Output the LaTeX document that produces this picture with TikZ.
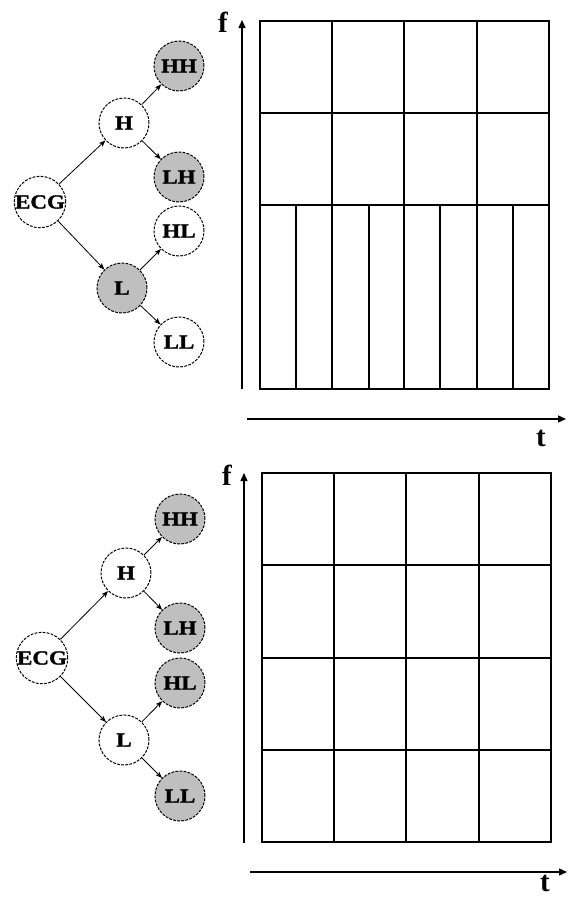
\documentclass[tikz,border=0pt]{standalone}
\usepackage{fontspec}
\setmainfont{Liberation Serif}
\newfontfamily\bandfont[FakeStretch=1.15,FakeBold=1.5]{Liberation Serif Bold}
\usetikzlibrary{arrows.meta}

\begin{document}
\begin{tikzpicture}[x=1pt,y=-1pt,
  band/.style={circle, draw, dash pattern=on 2.8pt off 1.3pt, line width=1pt,
    minimum size=50pt, inner sep=0pt, fill=white,
    font=\bandfont\fontsize{20}{20}\selectfont},
  sel/.style={band, fill=black!25},
  link/.style={-{Stealth[length=6.5pt,width=5pt,inset=1.5pt]}, line width=0.8pt},
  axis/.style={-{Triangle[length=8pt,width=7pt]}, line width=1.4pt},
  cell/.style={line width=1.5pt},
  axlabel/.style={font=\bfseries\fontsize{29}{29}\selectfont, inner sep=0pt}
]
\useasboundingbox (0,0) rectangle (568,900);
\clip (0,0) rectangle (568,900);
\fill[white] (0,0) rectangle (568,900);

% ---------- upper panel: wavelet decomposition ----------
\node[band] (ecgA) at (40,202) {ECG};
\node[band] (hA)   at (124,123) {H};
\node[sel]  (lA)   at (122,288) {L};
\node[sel]  (hhA)  at (179,66)  {HH};
\node[sel]  (lhA)  at (179,177) {LH};
\node[band] (hlA)  at (179,231) {HL};
\node[band] (llA)  at (179,342) {LL};

\draw[link] (ecgA) -- (hA);
\draw[link] (ecgA) -- (lA);
\draw[link] (hA) -- (hhA);
\draw[link] (hA) -- (lhA);
\draw[link] (lA) -- (hlA);
\draw[link] (lA) -- (llA);

% upper time-frequency tiling
\draw[cell] (260,21) rectangle (549,389);
\draw[cell] (260,113) -- (549,113);
\draw[cell] (260,205) -- (549,205);
\foreach \x in {332,404,477} \draw[cell] (\x,21) -- (\x,389);
\foreach \x in {296,369,440,513} \draw[cell] (\x,205) -- (\x,389);

\coordinate (fA0) at (242,389);
\coordinate (fA1) at (242,20);
\coordinate (tA0) at (247,419);
\coordinate (tA1) at (566,419);
\draw[axis] (fA0) -- (fA1);
\draw[axis] (tA0) -- (tA1);
\node[axlabel] (fAl) at (223,22) {f};
\node[axlabel] (tAl) at (541,438) {t};

% ---------- lower panel: wavelet packet decomposition ----------
\node[band] (ecgB) at (42,658) {ECG};
\node[band] (hB)   at (126,573) {H};
\node[band] (lB)   at (124,740) {L};
\node[sel]  (hhB)  at (180,519) {HH};
\node[sel]  (lhB)  at (180,628) {LH};
\node[sel]  (hlB)  at (180,683) {HL};
\node[sel]  (llB)  at (180,796) {LL};

\draw[link] (ecgB) -- (hB);
\draw[link] (ecgB) -- (lB);
\draw[link] (hB) -- (hhB);
\draw[link] (hB) -- (lhB);
\draw[link] (lB) -- (hlB);
\draw[link] (lB) -- (llB);

% lower time-frequency tiling
\draw[cell] (262,473) rectangle (551,842);
\foreach \y in {565,658,750} \draw[cell] (262,\y) -- (551,\y);
\foreach \x in {334,406,479} \draw[cell] (\x,473) -- (\x,842);

\coordinate (fB0) at (244,843);
\coordinate (fB1) at (244,473);
\coordinate (tB0) at (250,872);
\coordinate (tB1) at (567,872);
\draw[axis] (fB0) -- (fB1);
\draw[axis] (tB0) -- (tB1);
\node[axlabel] (fBl) at (227,475) {f};
\node[axlabel] (tBl) at (545,883) {t};
\end{tikzpicture}
\end{document}
